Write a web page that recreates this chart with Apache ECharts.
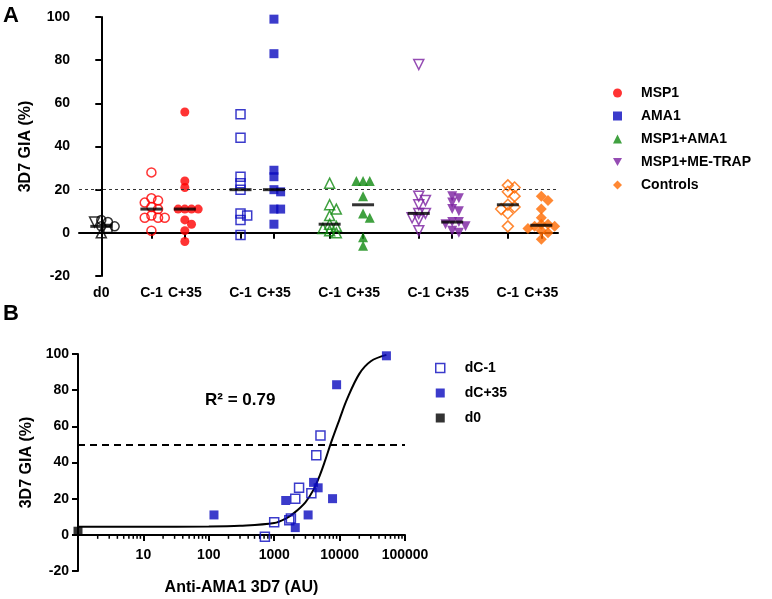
<!DOCTYPE html>
<html><head><meta charset="utf-8">
<script src="https://cdn.jsdelivr.net/npm/echarts@6/dist/echarts.min.js"></script>
<style>html,body{margin:0;padding:0;background:#fff}#c{width:772px;height:599px}</style>
</head><body><div id="c"></div><script>
// ---------------- Panel A data ----------------
const tickLabelsA = ['d0','C-1','C+35','C-1','C+35','C-1','C+35','C-1','C+35','C-1','C+35'];
const groupNames = ['MSP1','AMA1','MSP1+AMA1','MSP1+ME-TRAP','Controls'];
const d0Circles = [6,5,3,3];
const d0Squares = [2];
const d0Triangles = [0];
const d0DownTriangles = [5];
const msp1Pre = [28,16,15,14,12,11,8,7,7,7,1];
const msp1Post = [56,24,21,11,11,11,11,6,4,1,-4];
const ama1Pre = [55,44,26,23,20,9,8,6,-1];
const ama1Post = [99,83,29,26,20,19,11,11,4];
const msp1ama1Pre = [23,13,11,8,4,3,2,1,0];
const msp1ama1Post = [24,24,24,17,9,7,-2,-6];
const metrapPre = [78,17,15,13,9,9,7,6,1];
const metrapPost = [17,16,14,11,10,5,5,4,3,1,0];
const controlsPre = [22,21,19,17,13,12,11,9,3];
const controlsPost = [17,15,11,7,4,4,3,3,2,1,0,-3];
const thresholdA = 20;

// ---------------- Panel B data ----------------
const antiPre = [5100,4400,2400,3700,2100,1800,1700,1000,720];
const giaPre  = [55,44,26,23,20,9,8,7,-1];
const antiPost = [52000,9000,4000,4700,7800,1500,3300,2100,120];
const giaPost  = [99,83,29,26,20,19,11,4,11];
const antiD0 = [1];
const giaD0 = [2];
const curveX = [1,10,100,300,1000,1500,2000,3000,4000,5000,6000,7400,10000,13000,20000,30000,52000];
const curveY = [4.5,4.5,4.6,5,6.5,9,12,18,25,33,41,51,64,75,89,96,99.5];
const thresholdB = 50;
const r2Text = 'R² = 0.79';

// ---------------- layout ----------------
const FONT = '"Liberation Sans", Arial, sans-serif';
const slots = [0,9,15,25,31,41,47,57,63,73,79];
const X0 = -4, X1 = 82;
const cats = [];
for (let i = X0; i <= X1; i++) { const k = slots.indexOf(i); cats.push(k >= 0 ? tickLabelsA[k] : ''); }
const showFn = (idx, val) => val !== '';

function swarm(values, center) {
  const pxX = 5.57, pxY = 2.16, d = 6, step = 0.6;
  const placed = [];
  const out = new Array(values.length);
  const order = values.map((v, i) => i).sort((a, b) => values[b] - values[a]);
  order.forEach(i => {
    const v = values[i];
    const cands = [0];
    for (let k = 1; k < 12; k++) cands.push(k * step, -k * step);
    for (const off of cands) {
      if (placed.every(p => Math.hypot((p[0] - off) * pxX, (p[1] - v) * pxY) >= d)) {
        out[i] = [center + off, v]; placed.push([off, v]); break;
      }
    }
  });
  return out;
}
function median(a) { const s = a.slice().sort((x, y) => x - y); const n = s.length; return n % 2 ? s[(n - 1) / 2] : (s[n / 2 - 1] + s[n / 2]) / 2; }

const colors = ['#FF0000','#0A0ABE','#108A10','#7B1FA0','#FF6A00'];
const symbols = [['circle',0,9],['rect',0,9],['triangle',0,10],['triangle',180,10],['diamond',0,11]];
const legendIcons = ['circle','rect','triangle','path://M0,0L10,0L5,9Z','diamond'];
const pres = [msp1Pre, ama1Pre, msp1ama1Pre, metrapPre, controlsPre];
const posts = [msp1Post, ama1Post, msp1ama1Post, metrapPost, controlsPost];

function scat(name, data, sym, rot, size, color, open, xi, yi) {
  return {
    type: 'scatter', name, data, symbol: sym, symbolRotate: rot, symbolSize: size,
    xAxisIndex: xi, yAxisIndex: yi, silent: true, z: 3,
    itemStyle: open ? { color: 'rgba(255,255,255,0)', borderColor: color, borderWidth: 1.5 } : { color, borderWidth: 0 }
  };
}

const series = [];
const d0All = d0Circles.concat(d0Squares, d0Triangles, d0DownTriangles);
const d0Pts = swarm(d0All, slots[0]);
let off = 0;
[[d0Circles,'circle',0,9],[d0Squares,'rect',0,8],[d0Triangles,'triangle',0,10],[d0DownTriangles,'triangle',180,10]].forEach(([arr, s, r, z]) => {
  series.push(scat('baseline', d0Pts.slice(off, off + arr.length), s, r, z, '#000', true, 1, 0));
  off += arr.length;
});
groupNames.forEach((g, gi) => {
  const [s, r, z] = symbols[gi];
  series.push(scat(g, swarm(pres[gi], slots[1 + gi * 2]), s, r, z, colors[gi], true, 1, 0));
  series.push(scat(g, swarm(posts[gi], slots[2 + gi * 2]), s, r, z, colors[gi], false, 1, 0));
});
const allCols = [d0All].concat(...pres.map((p, i) => [p, posts[i]]));
series.push({
  type: 'scatter', name: 'median', xAxisIndex: 1, yAxisIndex: 0, silent: true, z: 5,
  symbol: 'rect', symbolSize: [22, 3], itemStyle: { color: '#000' },
  data: allCols.map((a, i) => [slots[i], median(a)]),
  markLine: { silent: true, symbol: 'none', label: { show: false },
    lineStyle: { type: [3, 3], color: '#333', width: 1 }, data: [{ yAxis: thresholdA }] }
});

// Panel B
const minorVals = [];
for (let e = 0; e < 5; e++) for (let m = 2; m <= 9; m++) minorVals.push([m * Math.pow(10, e), 0]);
series.push({
  type: 'custom', xAxisIndex: 2, yAxisIndex: 1, silent: true, data: minorVals,
  renderItem: (p, api) => { const c = api.coord([api.value(0), 0]);
    return { type: 'line', shape: { x1: c[0], y1: c[1], x2: c[0], y2: c[1] + 4 }, style: { stroke: '#000', lineWidth: 1.5 } }; }
});
series.push({
  type: 'line', name: 'fit', xAxisIndex: 2, yAxisIndex: 1, smooth: 0.35, showSymbol: false, silent: true, z: 2,
  lineStyle: { color: '#000', width: 2 }, data: curveX.map((x, i) => [x, curveY[i]]),
  markLine: { silent: true, symbol: 'none', label: { show: false },
    lineStyle: { type: [7, 5], color: '#000', width: 2 }, data: [{ yAxis: thresholdB }] }
});
series.push(scat('dC-1', antiPre.map((x, i) => [x, giaPre[i]]), 'rect', 0, 9, '#0A0ABE', true, 2, 1));
series.push(scat('dC+35', antiPost.map((x, i) => [x, giaPost[i]]), 'rect', 0, 9, '#0A0ABE', false, 2, 1));
series.push(scat('d0', antiD0.map((x, i) => [x, giaD0[i]]), 'rect', 0, 9, '#000', false, 2, 1));

const axLine = { show: true, lineStyle: { color: '#000', width: 2 } };
const lab = { color: '#000', fontWeight: 'bold', fontSize: 14, fontFamily: FONT };
const nameStyle = { color: '#000', fontWeight: 'bold', fontSize: 16, fontFamily: FONT };

const option = {
  animation: false,
  backgroundColor: '#fff',
  textStyle: { fontFamily: FONT },
  grid: [
    { left: 79, top: 17, width: 479, height: 259, outerBoundsMode: 'none' },
    { left: 78, top: 354, width: 327, height: 217, outerBoundsMode: 'none' }
  ],
  title: [
    { text: 'A', left: 3, top: 5, padding: 0, textStyle: { fontSize: 22, fontWeight: 'bold', color: '#000', fontFamily: FONT } },
    { text: 'B', left: 3, top: 303, padding: 0, textStyle: { fontSize: 22, fontWeight: 'bold', color: '#000', fontFamily: FONT } }
  ],
  legend: [
    { orient: 'vertical', left: 613, top: 86, itemWidth: 9, itemHeight: 9, itemGap: 9, padding: 0,
      textStyle: Object.assign({ padding: [0, 0, 0, 14] }, lab), selectedMode: false,
      data: groupNames.map((n, i) => ({ name: n, icon: legendIcons[i], itemStyle: { color: colors[i], borderWidth: 0 } })) },
    { orient: 'vertical', left: 435, top: 361, itemWidth: 9, itemHeight: 9, itemGap: 11, padding: 0,
      textStyle: Object.assign({ padding: [0, 0, 0, 15] }, lab), selectedMode: false,
      data: [
        { name: 'dC-1', icon: 'rect', itemStyle: { color: '#fff', borderColor: '#0A0ABE', borderWidth: 1.5 } },
        { name: 'dC+35', icon: 'rect', itemStyle: { color: '#0A0ABE', borderWidth: 0 } },
        { name: 'd0', icon: 'rect', itemStyle: { color: '#000', borderWidth: 0 } }
      ] }
  ],
  xAxis: [
    { type: 'category', gridIndex: 0, data: cats, boundaryGap: false, axisLine: axLine,
      axisTick: { show: true, interval: showFn, length: 6, lineStyle: { width: 2, color: '#000' } },
      axisLabel: Object.assign({ interval: showFn, margin: 10 }, lab), splitLine: { show: false } },
    { type: 'value', gridIndex: 0, min: X0, max: X1, show: false },
    { type: 'log', gridIndex: 1, logBase: 10, min: 1, max: 100000, offset: -36,
      axisLine: Object.assign({ onZero: false }, axLine),
      axisTick: { show: true, length: 6, lineStyle: { width: 2, color: '#000' } },
      axisLabel: Object.assign({ showMinLabel: false, margin: 13, formatter: v => String(Math.round(v)) }, lab),
      splitLine: { show: false }, minorTick: { show: false },
      name: 'Anti-AMA1 3D7 (AU)', nameLocation: 'middle', nameGap: 45, nameTextStyle: nameStyle }
  ],
  yAxis: [
    { type: 'value', gridIndex: 0, min: -20, max: 100, interval: 20, axisLine: axLine,
      axisTick: { show: true, length: 6, lineStyle: { width: 2, color: '#000' } },
      axisLabel: Object.assign({ margin: 9 }, lab), splitLine: { show: false },
      name: '3D7 GIA (%)', nameLocation: 'middle', nameGap: 45, nameTextStyle: nameStyle },
    { type: 'value', gridIndex: 1, min: -20, max: 100, interval: 20, axisLine: Object.assign({ onZero: false }, axLine),
      axisTick: { show: true, length: 6, lineStyle: { width: 2, color: '#000' } },
      axisLabel: Object.assign({ margin: 9 }, lab), splitLine: { show: false },
      name: '3D7 GIA (%)', nameLocation: 'middle', nameGap: 43, nameTextStyle: nameStyle }
  ],
  graphic: [
    { type: 'text', left: 205, top: 392, style: { text: r2Text, fill: '#000', font: 'bold 17px ' + FONT } }
  ],
  series
};
const chart = echarts.init(document.getElementById('c'), null, { renderer: 'canvas' });
chart.setOption(option);
</script></body></html>
